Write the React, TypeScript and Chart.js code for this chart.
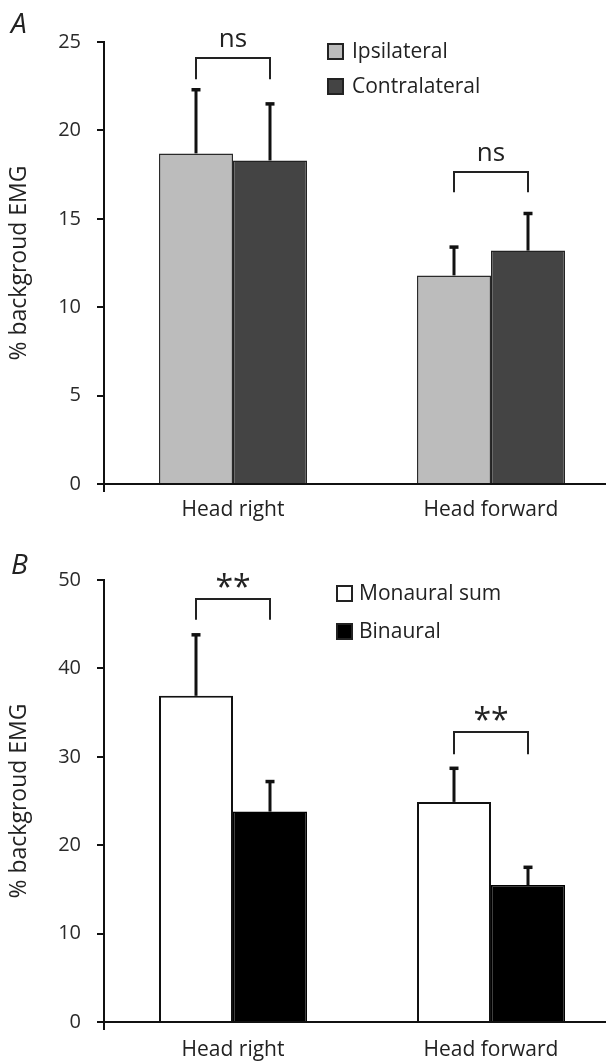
import React, { useEffect, useRef } from 'react';
import { Chart, registerables } from 'chart.js';
Chart.register(...registerables);

// ---------- data ----------
const categories = ['Head right', 'Head forward'];

const ipsilateral = [18.7, 11.8];
const ipsilateralErr = [3.6, 1.6];
const contralateral = [18.3, 13.2];
const contralateralErr = [3.2, 2.1];
const ticksA = [0, 5, 10, 15, 20, 25];
const bracketTopA = [24.1, 17.65];
const bracketLegA = [22.9, 16.5];
const bracketLabelA = ['ns', 'ns'];

const monaural = [36.9, 24.9];
const monauralErr = [6.9, 3.8];
const binaural = [23.8, 15.5];
const binauralErr = [3.4, 2.0];
const ticksB = [0, 10, 20, 30, 40, 50];
const bracketTopB = [47.85, 32.8];
const bracketLegB = [45.5, 30.3];
const bracketLabelB = ['**', '**'];

const FONT = "'Open Sans', sans-serif";
const TEXT = '#222';

type OverlayOpts = {
  errors: number[][];
  bracketTop: number[];
  bracketLeg: number[];
  bracketLabel: string[];
  labelFont: string;
  labelBaseline: CanvasTextBaseline;
  labelGap: number;
  legendX: number;
  legendY: number[];
  legendSize: number;
  legendTextX: number;
  letter: string;
  letterY: number;
};

function makeOverlay(o: OverlayOpts) {
  return {
    id: 'overlay',
    afterDatasetsDraw(chart: any) {
      const ctx: CanvasRenderingContext2D = chart.ctx;
      const y = chart.scales.y;
      const area = chart.chartArea;
      ctx.save();
      // error bars
      chart.data.datasets.forEach((ds: any, i: number) => {
        const meta = chart.getDatasetMeta(i);
        meta.data.forEach((bar: any, j: number) => {
          const v = ds.data[j];
          const x = Math.round(bar.x);
          const y0 = y.getPixelForValue(v);
          const y1 = y.getPixelForValue(v + o.errors[i][j]);
          ctx.strokeStyle = '#111';
          ctx.lineWidth = 3;
          ctx.beginPath();
          ctx.moveTo(x, y0);
          ctx.lineTo(x, y1);
          ctx.stroke();
          ctx.beginPath();
          ctx.moveTo(x - 4.5, y1);
          ctx.lineTo(x + 4.5, y1);
          ctx.lineWidth = 3.5;
          ctx.stroke();
        });
      });
      // small y-axis extension below zero
      ctx.strokeStyle = '#111';
      ctx.lineWidth = 2;
      ctx.beginPath();
      ctx.moveTo(area.left, area.bottom);
      ctx.lineTo(area.left, area.bottom + 8);
      ctx.stroke();
      // brackets
      const m0 = chart.getDatasetMeta(0);
      const m1 = chart.getDatasetMeta(1);
      o.bracketTop.forEach((top, j) => {
        const xL = Math.round(m0.data[j].x);
        const xR = Math.round(m1.data[j].x);
        const yT = Math.round(y.getPixelForValue(top));
        const yL = y.getPixelForValue(o.bracketLeg[j]);
        ctx.strokeStyle = '#222';
        ctx.lineWidth = 2;
        ctx.beginPath();
        ctx.moveTo(xL, yL);
        ctx.lineTo(xL, yT);
        ctx.lineTo(xR, yT);
        ctx.lineTo(xR, yL);
        ctx.stroke();
        ctx.fillStyle = TEXT;
        ctx.font = o.labelFont;
        ctx.textAlign = 'center';
        ctx.textBaseline = o.labelBaseline;
        ctx.fillText(o.bracketLabel[j], (xL + xR) / 2, yT - o.labelGap);
      });
      // legend
      chart.data.datasets.forEach((ds: any, i: number) => {
        const s = o.legendSize;
        const ly = o.legendY[i];
        ctx.fillStyle = ds.backgroundColor;
        ctx.fillRect(o.legendX, ly, s, s);
        ctx.strokeStyle = '#222';
        ctx.lineWidth = 2;
        ctx.strokeRect(o.legendX + 1, ly + 1, s - 2, s - 2);
        ctx.fillStyle = TEXT;
        ctx.font = `21px ${FONT}`;
        ctx.textAlign = 'left';
        ctx.textBaseline = 'middle';
        ctx.fillText(ds.label, o.legendTextX, ly + s / 2 + 1);
      });
      // panel letter
      ctx.fillStyle = TEXT;
      ctx.font = `italic 28px ${FONT}`;
      ctx.textAlign = 'left';
      ctx.textBaseline = 'alphabetic';
      ctx.fillText(o.letter, 11, o.letterY);
      ctx.restore();
    },
  };
}

function makeConfig(
  datasets: any[],
  tickValues: number[],
  max: number,
  padTop: number,
  xHeight: number,
  xPad: number,
  overlay: any
) {
  return {
    type: 'bar',
    data: { labels: categories, datasets },
    options: {
      responsive: false,
      devicePixelRatio: 1,
      animation: false,
      layout: { padding: { top: padTop, left: 0, right: 0, bottom: 0 } },
      plugins: { legend: { display: false }, tooltip: { enabled: false } },
      datasets: { bar: { categoryPercentage: 0.5736, barPercentage: 1 } },
      scales: {
        x: {
          grid: { display: false, drawTicks: false },
          border: { display: true, color: '#111', width: 2 },
          ticks: { color: TEXT, font: { family: FONT, size: 21 }, padding: xPad },
          afterFit: (s: any) => {
            s.height = xHeight;
          },
        },
        y: {
          min: 0,
          max,
          afterBuildTicks: (s: any) => {
            s.ticks = tickValues.map((v) => ({ value: v }));
          },
          grid: {
            display: true,
            drawOnChartArea: false,
            drawTicks: true,
            tickLength: 7,
            lineWidth: 2,
            color: '#111',
          },
          border: { display: true, color: '#111', width: 2 },
          ticks: { color: '#2a2a2a', font: { family: FONT, size: 20 }, padding: 16 },
          title: {
            display: true,
            text: '% backgroud EMG',
            color: TEXT,
            font: { family: FONT, size: 23, lineHeight: 1.2 },
            padding: { top: 6, bottom: 0 },
          },
          afterFit: (s: any) => {
            s.width = 104;
          },
        },
      },
    },
    plugins: [overlay],
  };
}

export default function App() {
  const refA = useRef<HTMLCanvasElement>(null);
  const refB = useRef<HTMLCanvasElement>(null);

  useEffect(() => {
    let charts: Chart[] = [];
    let cancelled = false;
    const build = () => {
      if (cancelled || !refA.current || !refB.current) return;
      const overlayA = makeOverlay({
        errors: [ipsilateralErr, contralateralErr],
        bracketTop: bracketTopA,
        bracketLeg: bracketLegA,
        bracketLabel: bracketLabelA,
        labelFont: `26px ${FONT}`,
        labelBaseline: 'alphabetic',
        labelGap: 11,
        legendX: 327,
        legendY: [43, 78],
        legendSize: 17,
        legendTextX: 352,
        letter: 'A',
        letterY: 33,
      });
      const overlayB = makeOverlay({
        errors: [monauralErr, binauralErr],
        bracketTop: bracketTopB,
        bracketLeg: bracketLegB,
        bracketLabel: bracketLabelB,
        labelFont: `32px ${FONT}`,
        labelBaseline: 'middle',
        labelGap: 10,
        legendX: 336,
        legendY: [55, 93],
        legendSize: 17,
        legendTextX: 359,
        letter: 'B',
        letterY: 44,
      });
      const dsA = [
        { label: 'Ipsilateral', data: ipsilateral, backgroundColor: '#bcbcbc', borderColor: '#2a2a2a', borderWidth: 1.5 },
        { label: 'Contralateral', data: contralateral, backgroundColor: '#444444', borderColor: '#222', borderWidth: 1.5 },
      ];
      const dsB = [
        { label: 'Monaural sum', data: monaural, backgroundColor: '#ffffff', borderColor: '#111', borderWidth: 2 },
        { label: 'Binaural', data: binaural, backgroundColor: '#000000', borderColor: '#000', borderWidth: 1.5 },
      ];
      charts.push(new Chart(refA.current, makeConfig(dsA, ticksA, 25, 42, 46, 13, overlayA) as any));
      charts.push(new Chart(refB.current, makeConfig(dsB, ticksB, 50, 50, 41, 15, overlayB) as any));
    };
    const fonts: any = (document as any).fonts;
    if (fonts && fonts.load) {
      Promise.all([
        fonts.load(`21px "Open Sans"`),
        fonts.load(`italic 28px "Open Sans"`),
      ]).then(build, build);
    } else build();
    return () => {
      cancelled = true;
      charts.forEach((c) => c.destroy());
      charts = [];
    };
  }, []);

  return (
    <div
      style={{
        position: 'fixed',
        left: 0,
        top: 0,
        width: 606,
        height: 1063,
        overflow: 'hidden',
        background: '#fff',
      }}
    >
      <canvas ref={refA} width={620} height={530} style={{ display: 'block', width: 620, height: 530 }} />
      <canvas ref={refB} width={620} height={533} style={{ display: 'block', width: 620, height: 533 }} />
    </div>
  );
}
